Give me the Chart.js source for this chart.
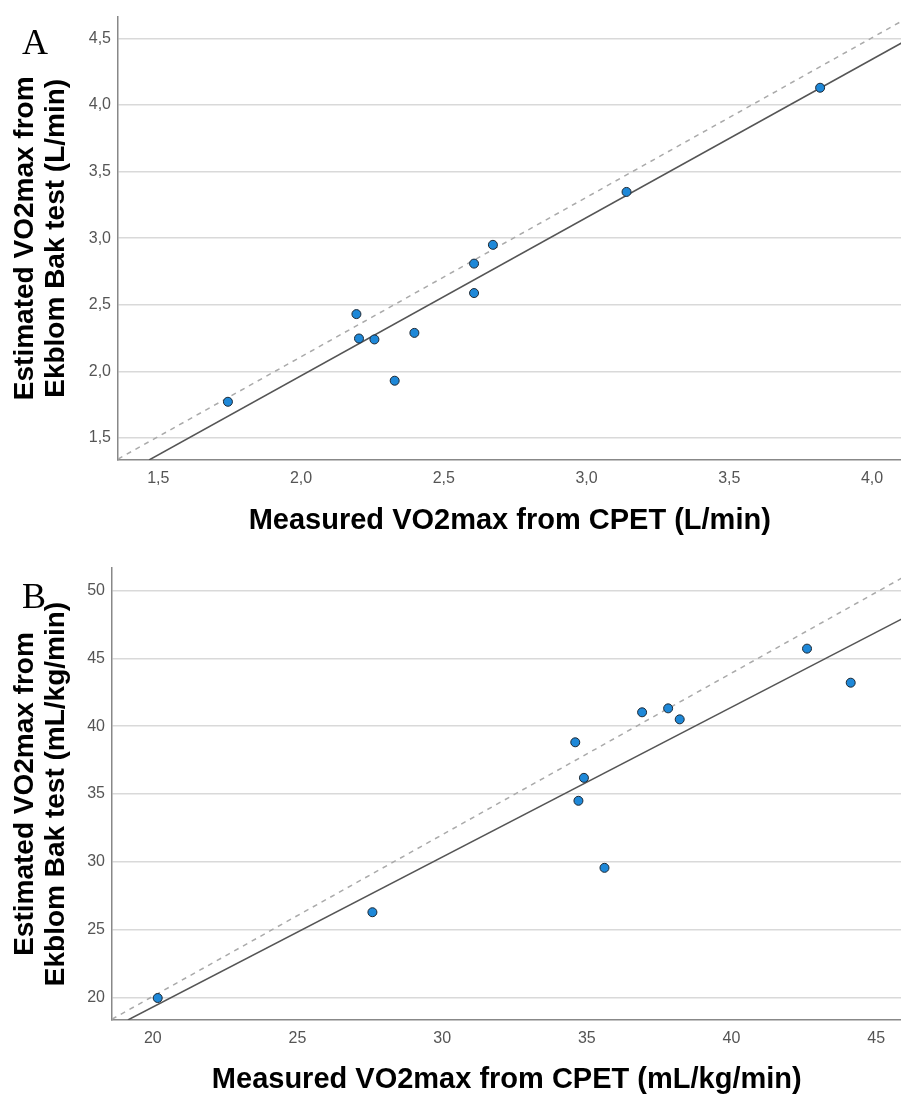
<!DOCTYPE html>
<html>
<head>
<meta charset="utf-8">
<script src="https://cdn.jsdelivr.net/npm/chart.js@4"></script>
<style>
  body { margin: 0; background: #fff; overflow: hidden; }
  #wrap { position: relative; width: 901px; height: 1097px; overflow: hidden; }
  canvas { position: absolute; left: 0; }
  .panel { position: absolute; font-family: "Liberation Serif", "Times New Roman", serif; font-size: 36px; color: #000; }
</style>
</head>
<body>
<div id="wrap">
  <!-- canvases are a bit wider than the page: Chart.js keeps a few px free on the right -->
  <canvas id="chartA" width="907" height="548" style="top:0"></canvas>
  <canvas id="chartB" width="907" height="549" style="top:548px"></canvas>
  <div class="panel" style="left:22px; top:21px">A</div>
  <div class="panel" style="left:22px; top:575px">B</div>
</div>
<script>
// Panel A (L/min)
const measuredA  = [1.744, 2.194, 2.203, 2.257, 2.328, 2.397, 2.606, 2.606, 2.672, 3.140, 3.818];
const estimatedA = [1.772, 2.430, 2.247, 2.240, 1.930, 2.289, 2.588, 2.809, 2.950, 3.347, 4.129];
const fitAx = [1.468, 4.103];
const fitAy = [1.335, 4.465];
const refAx = [1.359, 4.103];
const refAy = [1.342, 4.628];
const xTicksA = [1.5, 2.0, 2.5, 3.0, 3.5, 4.0];
const yTicksA = [1.5, 2.0, 2.5, 3.0, 3.5, 4.0, 4.5];

// Panel B (mL/kg/min)
const measuredB  = [20.17, 27.59, 34.60, 34.90, 34.71, 36.91, 37.81, 38.21, 42.61, 44.12, 35.61];
const estimatedB = [19.97, 26.29, 38.81, 36.19, 34.50, 41.02, 41.31, 40.50, 45.71, 43.20, 29.56];
const fitBx = [19.14, 45.875];
const fitBy = [18.35, 47.88];
const refBx = [18.59, 45.875];
const refBy = [18.41, 50.90];
const xTicksB = [20, 25, 30, 35, 40, 45];
const yTicksB = [20, 25, 30, 35, 40, 45, 50];

const FONT = '"Liberation Sans", Arial, sans-serif';

function pts(xs, ys) {
    return xs.map((x, i) => ({ x: x, y: ys[i] }));
}

function makeChart(id, opt) {
    const fmt = v => opt.decimals ? v.toFixed(1).replace('.', ',') : String(v);
    new Chart(document.getElementById(id), {
        type: 'scatter',
        data: {
            datasets: [
                {
                    data: pts(opt.mx, opt.my),
                    pointRadius: 4.5,
                    pointBackgroundColor: '#1e88d8',
                    pointBorderColor: '#1d2833',
                    pointBorderWidth: 1
                },
                {
                    type: 'line',
                    data: pts(opt.fx, opt.fy),
                    borderColor: '#555',
                    borderWidth: 1.5,
                    pointRadius: 0,
                    fill: false
                },
                {
                    type: 'line',
                    data: pts(opt.rx, opt.ry),
                    borderColor: '#aaa',
                    borderWidth: 1.5,
                    borderDash: [5, 5],
                    pointRadius: 0,
                    fill: false
                }
            ]
        },
        options: {
            responsive: false,
            animation: false,
            devicePixelRatio: 1,
            layout: { padding: { top: opt.top, left: 0, right: 0, bottom: 0 } },
            plugins: { legend: { display: false }, tooltip: { enabled: false } },
            scales: {
                x: {
                    type: 'linear',
                    min: opt.xmin, max: opt.xmax,
                    afterBuildTicks: s => { s.ticks = opt.xt.map(v => ({ value: v })); },
                    afterFit: s => { s.height = opt.xh; },
                    grid: { display: false, drawTicks: false },
                    border: { display: true, color: '#888', width: 1.5 },
                    ticks: { padding: 9, color: '#555', font: { family: FONT, size: 16 }, callback: fmt },
                    title: {
                        display: true, text: opt.xtitle, color: '#000',
                        font: { family: FONT, size: 29, weight: 'bold' },
                        padding: { top: 0, bottom: opt.xpad }
                    }
                },
                y: {
                    type: 'linear',
                    min: opt.ymin, max: opt.ymax,
                    afterBuildTicks: s => { s.ticks = opt.yt.map(v => ({ value: v })); },
                    afterFit: s => { s.width = opt.yw; },
                    grid: { color: '#d9d9d9', lineWidth: 1.5, drawTicks: false },
                    border: { display: true, color: '#888', width: 1.5 },
                    ticks: { padding: 7, color: '#555', font: { family: FONT, size: 16 }, callback: fmt },
                    title: {
                        display: true, text: opt.ytitle, color: '#000',
                        font: { family: FONT, size: 28, weight: 'bold', lineHeight: 1.1 },
                        padding: { top: 10, bottom: 0 }
                    }
                }
            }
        }
    });
}

makeChart('chartA', {
    mx: measuredA, my: estimatedA, fx: fitAx, fy: fitAy, rx: refAx, ry: refAy,
    xt: xTicksA, yt: yTicksA, decimals: true,
    xmin: 1.359, xmax: 4.103, ymin: 1.335, ymax: 4.663,
    top: 12, xh: 88, yw: 118, xpad: 10,
    xtitle: 'Measured VO2max from CPET (L/min)',
    ytitle: ['Estimated VO2max from', 'Ekblom Bak test (L/min)']
});

makeChart('chartB', {
    mx: measuredB, my: estimatedB, fx: fitBx, fy: fitBy, rx: refBx, ry: refBy,
    xt: xTicksB, yt: yTicksB, decimals: false,
    xmin: 18.59, xmax: 45.875, ymin: 18.35, ymax: 51.65,
    top: 20, xh: 77, yw: 112, xpad: 0,
    xtitle: 'Measured VO2max from CPET (mL/kg/min)',
    ytitle: ['Estimated VO2max from', 'Ekblom Bak test (mL/kg/min)']
});
</script>
</body>
</html>
